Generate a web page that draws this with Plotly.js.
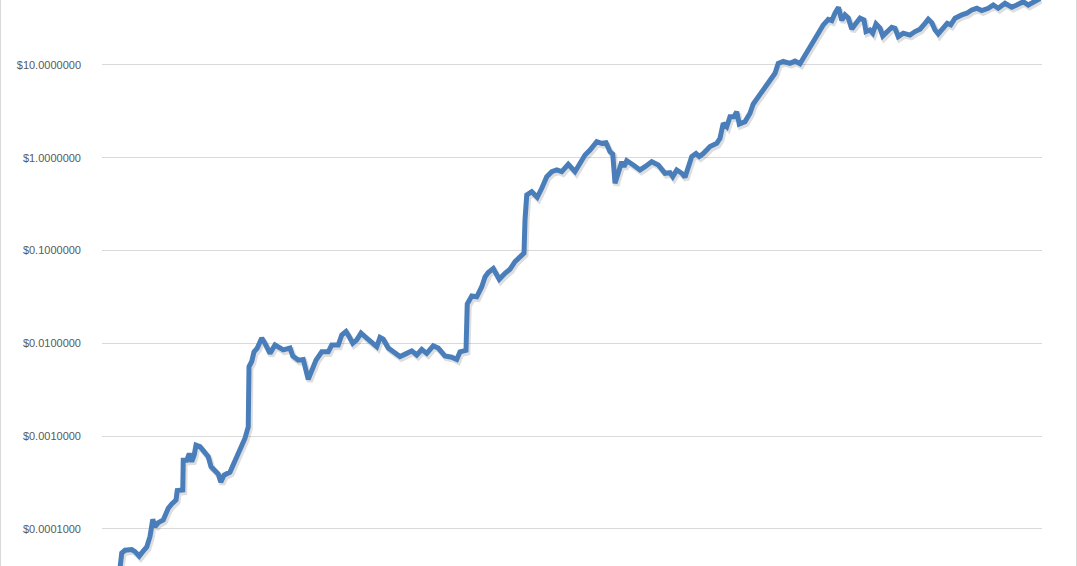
<!DOCTYPE html>
<html>
<head>
<meta charset="utf-8">
<script src="https://cdn.plot.ly/plotly-3.0.1.min.js"></script>
<style>
  body { margin: 0; background: #fff; }
  #chart { width: 1075px; height: 566px; border-left: 1px solid #d9d9d9; border-right: 1px solid #d9d9d9; }
</style>
</head>
<body>
<div id="chart"></div>
<script>
// day number since start of the series
var days = [72, 79, 92, 119, 132, 149, 163, 179, 192, 203, 212, 225, 245, 265, 279, 296, 301, 323, 325, 339,
  349, 359, 369, 376, 392, 412, 425, 436, 452, 465, 475, 488, 512, 532, 545, 559, 572, 585, 588, 599,
  608, 621, 639, 652, 672, 692, 725, 752, 763, 785, 805, 825, 839, 856, 879, 905, 919, 945, 959, 976,
  989, 1003, 1019, 1036, 1052, 1065, 1085, 1099, 1112, 1125, 1145, 1165, 1192, 1219, 1239, 1259, 1279, 1299, 1325, 1345,
  1372, 1399, 1419, 1432, 1456, 1461, 1479, 1499, 1519, 1532, 1545, 1565, 1589, 1612, 1632, 1652, 1675, 1688, 1692, 1699,
  1719, 1741, 1759, 1779, 1799, 1819, 1839, 1865, 1892, 1912, 1932, 1952, 1979, 1999, 2016, 2032, 2043, 2052, 2065, 2079,
  2088, 2099, 2125, 2152, 2172, 2199, 2225, 2252, 2272, 2283, 2299, 2319, 2332, 2341, 2359, 2376, 2389, 2405, 2432, 2459,
  2472, 2485, 2499, 2512, 2528, 2539, 2549, 2572, 2592, 2605, 2625, 2639, 2652, 2672, 2692, 2705, 2725, 2752, 2772, 2792,
  2805, 2825, 2845, 2865, 2885, 2905, 2919, 2932, 2946, 2959, 2972, 2985, 2999, 3016,
  3032, 3048, 3056, 3072, 3083, 3096, 3112, 3123, 3139, 3159, 3172, 3185, 3205, 3232, 3252, 3272, 3292, 3305, 3319, 3332,
  3345, 3363, 3381, 3395, 3412, 3439, 3459, 3479, 3499, 3519, 3545, 3565, 3585, 3612, 3639, 3659, 3685, 3705, 3725, 3752];

// price in dollars
var price = [3.8e-5, 5.5e-5, 5.9e-5, 6.0e-5, 5.7e-5, 5.1e-5, 5.7e-5, 6.4e-5, 8.3e-5, 1.27e-4,
  1.06e-4, 1.17e-4, 1.25e-4, 1.67e-4, 1.86e-4, 2.05e-4, 2.59e-4, 2.63e-4, 5.5e-4, 5.5e-4,
  6.5e-4, 5.3e-4, 6.3e-4, 8.0e-4, 7.7e-4, 6.6e-4, 6.0e-4, 4.7e-4, 4.3e-4, 3.9e-4,
  3.2e-4, 3.8e-4, 4.1e-4, 5.3e-4, 6.3e-4, 8.0e-4, 9.5e-4, 1.26e-3, 5.6e-3, 6.4e-3,
  8.1e-3, 8.9e-3, 1.14e-2, 1.0e-2, 7.8e-3, 9.6e-3, 8.5e-3, 8.9e-3, 7.3e-3, 6.6e-3,
  6.7e-3, 4.1e-3, 5.0e-3, 6.6e-3, 8.1e-3, 8.1e-3, 9.6e-3, 9.6e-3, 1.23e-2, 1.34e-2,
  1.18e-2, 1.0e-2, 1.09e-2, 1.29e-2, 1.18e-2, 1.09e-2, 9.6e-3, 9.2e-3, 1.16e-2, 1.11e-2,
  8.9e-3, 8.1e-3, 7.2e-3, 7.8e-3, 8.3e-3, 7.5e-3, 8.6e-3, 7.8e-3, 9.4e-3, 8.9e-3,
  7.3e-3, 7.1e-3, 6.7e-3, 8.1e-3, 8.4e-3, 2.66e-2, 3.24e-2, 3.18e-2, 4.08e-2, 5.2e-2,
  5.8e-2, 6.4e-2, 4.9e-2, 5.7e-2, 6.3e-2, 7.6e-2, 8.7e-2, 9.4e-2, 0.214, 0.397,
  0.431, 0.375, 0.469, 0.626, 0.708, 0.739, 0.708, 0.851, 0.708, 0.873,
  1.07, 1.21, 1.49, 1.43, 1.45, 1.16, 1.10, 0.531, 0.681, 0.908,
  0.802, 0.931, 0.836, 0.739, 0.802, 0.908, 0.836, 0.681, 0.69, 0.626,
  0.739, 0.681, 0.616, 0.739, 1.03, 1.11, 1.03, 1.11, 1.32, 1.43,
  1.62, 2.35, 2.16, 2.77, 2.77, 3.14, 2.31, 2.45, 3.02, 3.80,
  4.55, 4.95, 5.75, 6.89, 8.14, 10.4, 10.9, 10.4, 11.0, 10.3,
  11.8, 13.9, 17.5, 22.0, 27.0, 30.9, 30.0, 36.1, 41.7, 30.3,
  34.6, 32.1, 24.4, 28.1,
  31.9, 30.5, 22.9, 23.8, 22.0, 27.7, 24.9, 20.5, 22.9, 25.5,
  24.9, 20.2, 22.0, 21.0, 22.9, 24.3, 28.1, 31.1, 28.6, 23.8,
  21.6, 24.9, 28.1, 27.0, 31.9, 34.6, 36.1, 39.2, 40.8, 38.5,
  40.8, 44.3, 40.8, 46.2, 41.9, 44.3, 48.1, 44.3, 48.1, 52.1];

var tickVals = [0.0001, 0.001, 0.01, 0.1, 1, 10];
var tickText = ['$0.0001000', '$0.0010000', '$0.0100000', '$0.1000000', '$1.0000000', '$10.0000000'];

var xRange = [0, 3760];
var yRange = [-4.399, 1.70];

// empty trace so the base axes (gridlines, labels) are drawn
var base = {
  x: [], y: [], type: 'scatter', mode: 'lines',
  hoverinfo: 'skip', showlegend: false
};

// soft drop shadow under the line, drawn on shifted overlay axes
var shadow = {
  x: days, y: price, xaxis: 'x2', yaxis: 'y2',
  type: 'scatter', mode: 'lines',
  line: { color: 'rgba(0,0,0,0.13)', width: 6 },
  hoverinfo: 'skip', showlegend: false
};

var series = {
  x: days, y: price, xaxis: 'x3', yaxis: 'y3',
  type: 'scatter', mode: 'lines',
  line: { color: '#4a7ebb', width: 5 },
  hoverinfo: 'skip', showlegend: false
};

var hidden = { showgrid: false, zeroline: false, showline: false, showticklabels: false, ticks: '' };

var layout = {
  width: 1075,
  height: 566,
  margin: { l: 101, r: 34, t: 0, b: 0 },
  paper_bgcolor: '#ffffff',
  plot_bgcolor: '#ffffff',
  font: { family: 'Liberation Sans, Arial, sans-serif', size: 11, color: '#595959' },
  xaxis: Object.assign({ range: xRange }, hidden),
  yaxis: {
    type: 'log',
    range: yRange,
    tickvals: tickVals,
    ticktext: tickText,
    showgrid: true,
    gridcolor: '#d9d9d9',
    gridwidth: 1,
    zeroline: false,
    showline: false,
    ticks: '',
    ticklabelstandoff: 20,
    tickfont: { size: 11, color: '#595959' }
  },
  xaxis2: Object.assign({ overlaying: 'x', range: [xRange[0] - 6, xRange[1] - 6] }, hidden),
  yaxis2: Object.assign({ overlaying: 'y', type: 'log', range: [yRange[0] + 0.024, yRange[1] + 0.024] }, hidden),
  xaxis3: Object.assign({ overlaying: 'x', range: xRange }, hidden),
  yaxis3: Object.assign({ overlaying: 'y', type: 'log', range: yRange }, hidden),
  hovermode: false
};

Plotly.newPlot('chart', [base, shadow, series], layout, { displayModeBar: false, staticPlot: true });
</script>
</body>
</html>
